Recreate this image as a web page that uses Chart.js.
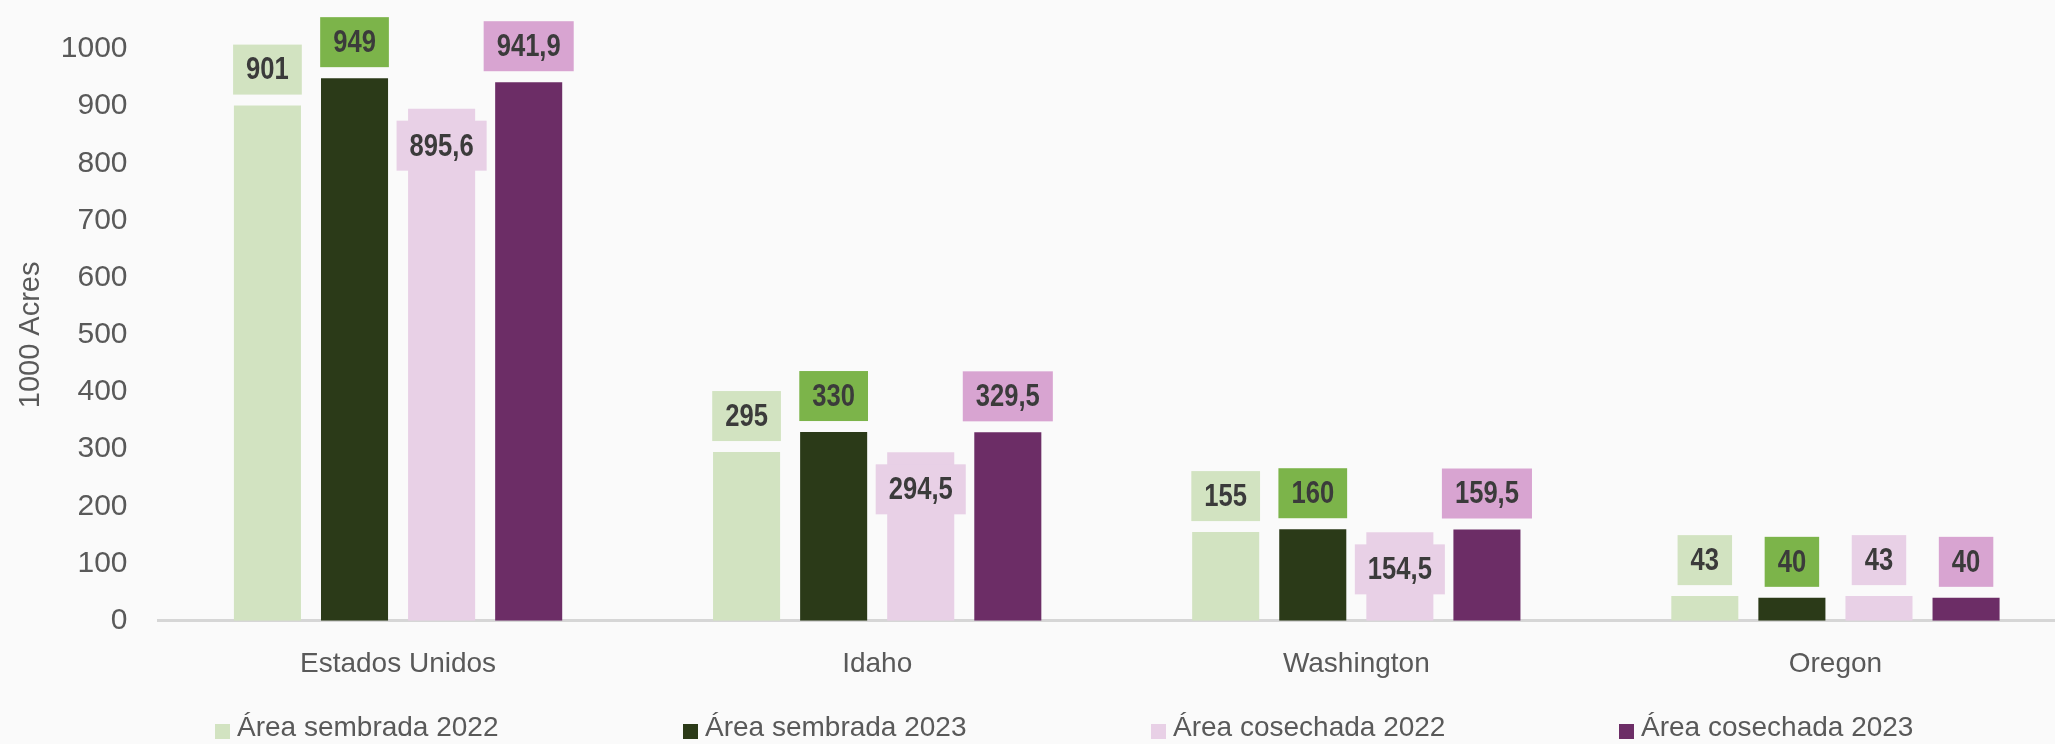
<!DOCTYPE html>
<html>
<head>
<meta charset="utf-8">
<script src="https://cdn.jsdelivr.net/npm/chart.js@4"></script>
<style>
  html, body { margin: 0; padding: 0; background: #fafafa; overflow: hidden; width: 2055px; height: 744px; }
  #wrap { position: absolute; left: 0; top: 0; width: 2080px; height: 744px; }
  #legend { position: absolute; left: 215px; top: 711px; display: flex; font-family: "Liberation Sans", Arial, sans-serif; font-size: 28px; color: #595959; white-space: nowrap; }
  #legend .item { width: 468px; display: flex; align-items: center; }
  #legend .box { width: 15px; height: 15px; margin-right: 7px; margin-top: 9px; }
</style>
</head>
<body>
<div id="wrap"><canvas id="chart"></canvas></div>
<div id="legend"></div>
<script>
// Categorias e séries (1000 acres)
const categories = ['Estados Unidos', 'Idaho', 'Washington', 'Oregon'];
const seriesNames = ['Área sembrada 2022', 'Área sembrada 2023', 'Área cosechada 2022', 'Área cosechada 2023'];
const sembrada2022 = [901, 295, 155, 43];
const sembrada2023 = [949, 330, 160, 40];
const cosechada2022 = [895.6, 294.5, 154.5, 43];
const cosechada2023 = [941.9, 329.5, 159.5, 40];

const barColors = ['#d2e3c1', '#2b3a18', '#e8d0e6', '#6c2d66'];
const labelBgColors = ['#d2e3c1', '#7cb44a', '#e8d0e6', '#d8a4d1'];
const FONT = '"Liberation Sans", Arial, sans-serif';

const allSeries = [sembrada2022, sembrada2023, cosechada2022, cosechada2023];

// Rótulos com caixa colorida (acima da barra; a série 3 fica dentro quando cabe)
const boxLabels = {
    id: 'boxLabels',
    afterDatasetsDraw(chart) {
        const ctx = chart.ctx;
        const squeeze = 0.8; // imitar fonte estreita
        ctx.save();
        ctx.font = 'bold 32px ' + FONT;
        ctx.textAlign = 'center';
        ctx.textBaseline = 'middle';
        chart.data.datasets.forEach((ds, di) => {
            const meta = chart.getDatasetMeta(di);
            meta.data.forEach((bar, i) => {
                const text = String(ds.data[i]).replace('.', ',');
                const w = ctx.measureText(text).width * squeeze + 26;
                const h = 50;
                const barH = bar.base - bar.y;
                let top;
                if (di === 2 && barH > h + 20) {
                    top = bar.y + 12;
                } else {
                    top = bar.y - 11 - h;
                }
                ctx.fillStyle = labelBgColors[di];
                ctx.fillRect(bar.x - w / 2, top, w, h);
                ctx.fillStyle = '#3b3b3b';
                ctx.save();
                ctx.translate(bar.x, top + h / 2 + 1);
                ctx.scale(squeeze, 1);
                ctx.fillText(text, 0, 0);
                ctx.restore();
            });
        });
        ctx.restore();
    }
};

const chart = new Chart(document.getElementById('chart'), {
    type: 'bar',
    data: {
        labels: categories,
        datasets: allSeries.map((data, i) => ({
            label: seriesNames[i],
            data: data,
            backgroundColor: barColors[i],
            borderWidth: 0,
            categoryPercentage: 0.727,
            barPercentage: 0.77
        }))
    },
    options: {
        responsive: true,
        maintainAspectRatio: false,
        animation: false,
        layout: { padding: { top: 46, left: 0, right: 5, bottom: 0 } },
        plugins: {
            legend: { display: false },
            tooltip: { enabled: false }
        },
        scales: {
            x: {
                offset: true,
                grid: { display: false, drawTicks: false },
                border: { display: true, color: '#d6d6d6', width: 3 },
                ticks: { color: '#595959', font: { family: FONT, size: 28 }, padding: 27 },
                afterFit: s => { s.height = 123.3; }
            },
            y: {
                min: 0,
                max: 1000,
                grid: { display: false, drawTicks: false },
                border: { display: false },
                ticks: {
                    stepSize: 100, color: '#595959', font: { family: FONT, size: 30 }, padding: 31,
                    callback: v => String(v)
                },
                title: { display: true, text: '1000 Acres', color: '#595959', font: { family: FONT, size: 29 }, padding: { top: 14, bottom: 0 } },
                afterFit: s => { s.width = 158.5; }
            }
        }
    },
    plugins: [boxLabels]
});

// Legenda em HTML com espaçamento uniforme
const legend = document.getElementById('legend');
seriesNames.forEach((name, i) => {
    const item = document.createElement('div');
    item.className = 'item';
    const box = document.createElement('span');
    box.className = 'box';
    box.style.background = barColors[i];
    const txt = document.createElement('span');
    txt.textContent = name;
    item.appendChild(box);
    item.appendChild(txt);
    legend.appendChild(item);
});
</script>
</body>
</html>
